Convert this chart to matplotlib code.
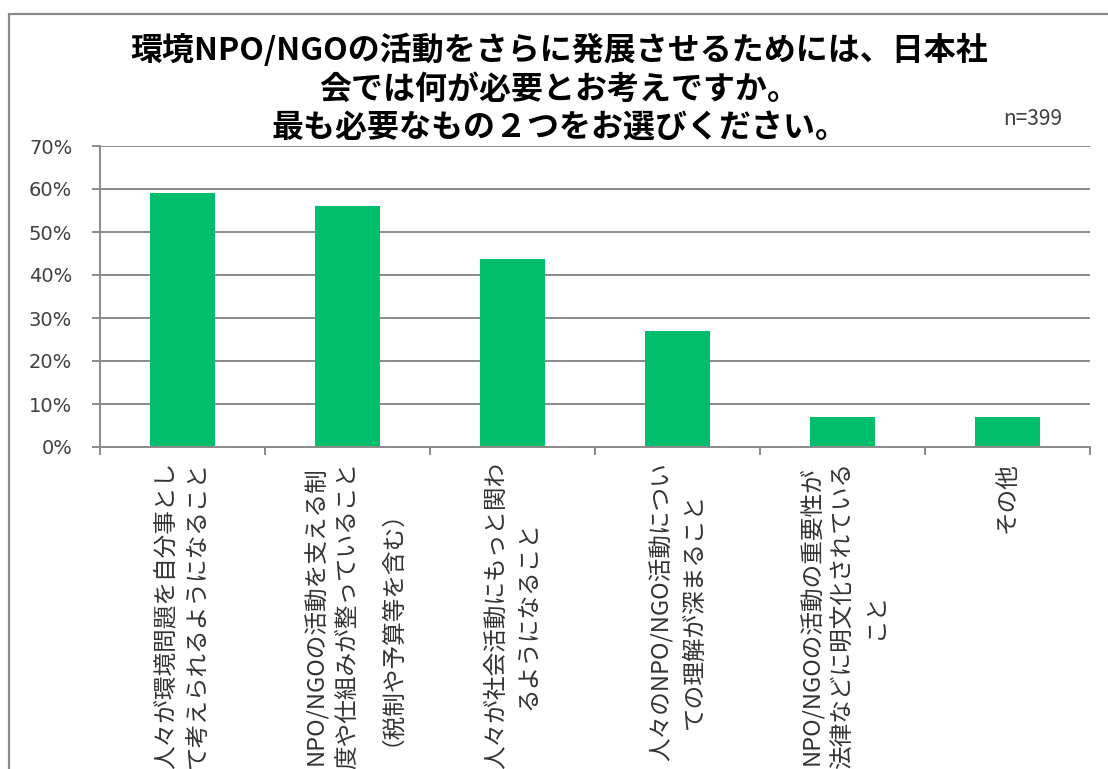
import matplotlib
matplotlib.use("Agg")
import matplotlib.pyplot as plt
from matplotlib.patches import Rectangle
from matplotlib.ticker import PercentFormatter

# フォント設定（日本語はNoto Sans CJK JP）
jp_font = ['Noto Sans CJK JP', 'DejaVu Sans']

# データ
categories = [
    "人々が環境問題を自分事とし\nて考えられるようになること",
    "NPO/NGOの活動を支える制\n度や仕組みが整っていること\n（税制や予算等を含む）",
    "人々が社会活動にもっと関わ\nるようになること",
    "人々のNPO/NGO活動につい\nての理解が深まること",
    "NPO/NGOの活動の重要性が\n法律などに明文化されている\nこと",
    "その他",
]
values = [59.0, 56.1, 43.7, 27.0, 7.0, 7.0]
yticks = [0, 10, 20, 30, 40, 50, 60, 70]

title = ("環境NPO/NGOの活動をさらに発展させるためには、日本社\n"
         "会では何が必要とお考えですか。\n"
         "最も必要なもの２つをお選びください。")
n_label = "n=399"

bar_color = '#00BE6B'
grid_color = '#8a8a8a'

W, H = 1108, 769
fig = plt.figure(figsize=(W / 100, H / 100), dpi=100)
ax = fig.add_axes([100 / W, 1 - 447 / H, 990 / W, 301 / H])

x = list(range(len(values)))
ax.bar(x, values, width=0.39, color=bar_color, zorder=3)

ax.set_xlim(-0.5, len(values) - 0.5)
ax.set_ylim(0, 70)
ax.set_yticks(yticks)
ax.yaxis.set_major_formatter(PercentFormatter(decimals=0))
ax.grid(axis='y', color=grid_color, linewidth=1.4, zorder=0)

for s in ['top', 'right']:
    ax.spines[s].set_visible(False)
for s in ['left', 'bottom']:
    ax.spines[s].set_color(grid_color)
    ax.spines[s].set_linewidth(1.4)
    ax.spines[s].set_zorder(4)

# カテゴリ名は棒の中心、目盛り線はカテゴリの境目
ax.set_xticks(x)
ax.set_xticklabels(categories, rotation=90, ha='center', va='top',
                   multialignment='center', linespacing=1.5,
                   family=jp_font, fontsize=17, color='#333333')
ax.set_xticks([i - 0.5 for i in range(len(values) + 1)], minor=True)
ax.tick_params(axis='x', which='major', length=0, pad=11)
ax.tick_params(axis='x', which='minor', length=6, width=1.4, color=grid_color)
ax.tick_params(axis='y', length=6, width=1.4, color=grid_color, pad=14,
               labelsize=14, labelcolor='#404040')

fig.text(0.505, 1 - 89 / H, title, ha='center', va='center', family=jp_font,
         fontsize=23, fontweight='bold', linespacing=1.25, color='black')
fig.text(1062 / W, 1 - 125 / H, n_label, ha='right', va='baseline',
         family=jp_font, fontsize=15, color='#404040')

# グラフエリアの枠
fig.add_artist(Rectangle((9 / W, -0.1), 1.2, 1.1 - 14 / H,
                         transform=fig.transFigure, fill=False,
                         edgecolor='#8a8a8a', linewidth=1.6, clip_on=False))

fig.savefig("out.png", dpi=100)
